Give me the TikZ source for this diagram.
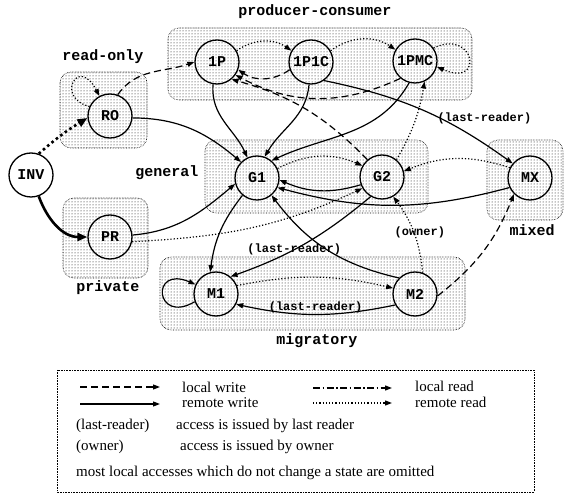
\documentclass[tikz,border=0pt]{standalone}
\usepackage{fontspec}
\setmainfont{Liberation Serif}
\setmonofont{Liberation Mono}
\usetikzlibrary{arrows.meta, patterns}

\begin{document}
\begin{tikzpicture}[x=1pt, y=1pt, >={Triangle[length=7pt,width=5pt]},
        state/.style = {draw, circle, line width=1.3pt, minimum size=44pt, inner sep=0pt, font=\fontsize{15}{15}\ttfamily\bfseries},
        region/.style = {draw, densely dotted, line width=0.6pt, rounded corners=11pt, pattern=dots, pattern color=black},
        rlabel/.style = {font=\fontsize{15}{15}\ttfamily\bfseries},
        elabel/.style = {font=\fontsize{12}{12}\ttfamily\bfseries, inner sep=1pt},
        lwrite/.style = {->, line width=1.2pt, dash pattern=on 7pt off 4pt},
        rwrite/.style = {->, line width=1.2pt},
        lread/.style = {->, line width=1.2pt, dash pattern=on 7pt off 2.5pt on 1.5pt off 2.5pt},
        rread/.style = {->, line width=1.2pt, dash pattern=on 1.2pt off 2pt},
        legend/.style = {font=\fontsize{15}{15}\selectfont, anchor=west, inner sep=0pt},
        ]
        \useasboundingbox (0,0) rectangle (565,493);

        \draw [region] (168,465) rectangle (472,393);
        \draw [region] (60,421) rectangle (147,345);
        \draw [region] (205,353) rectangle (428,280);
        \draw [region] (487,353) rectangle (563,273);
        \draw [region] (63,295) rectangle (148,215);
        \draw [region] (160,236) rectangle (465,163);

        \node [rlabel] (prodcons) at (315,481) {producer-consumer};
        \node [rlabel] (readonly) at (103,436) {read-only};
        \node [rlabel] (general) at (167,320) {general};
        \node [rlabel] (mixed) at (532,263) {mixed};
        \node [rlabel] (private) at (108,205) {private};
        \node [rlabel] (migratory) at (317,152) {migratory};

        \node [state] (inv) at (31,318) {INV};
        \node [state] (ro) at (110,377) {RO};
        \node [state] (pr) at (110,256) {PR};
        \node [state] (onep) at (217,431) {1P};
        \node [state] (onepc) at (311,431) {1P1C};
        \node [state] (onepmc) at (415,432) {1PMC};
        \node [state] (g1) at (257,315) {G1};
        \node [state] (g2) at (382,316) {G2};
        \node [state] (mx) at (530,315) {MX};
        \node [state] (m1) at (216,199) {M1};
        \node [state] (m2) at (415,199) {M2};

        \draw [rread, line width=2.6pt, dash pattern=on 2.6pt off 3pt, >={Triangle[length=10pt,width=8pt]}] (inv.70) to[bend left=5] (ro.185);
        \draw [rwrite, line width=2.6pt, >={Triangle[length=10pt,width=8pt]}] (inv.-70) to[out=-70, in=180] (pr.180);
        \draw [rread] (ro.155) .. controls (55,395) and (78,438) .. (ro.118);
        \draw [lwrite] (ro.70) to[out=55, in=199] (onep.180);
        \draw [rwrite] (ro.-5) to[out=0, in=140] (g1.135);
        \draw [rwrite] (pr.5) to[out=5, in=220] (g1.-165);
        \draw [rread] (pr.-12) to[out=3, in=205] (g2.210);

        \draw [rread] (onep.30) to[bend left=35] (onepc.150);
        \draw [lwrite] (onepc.200) to[bend left=35] (onep.-20);
        \draw [rread] (onepc.30) to[bend left=35] (onepmc.150);
        \draw [lwrite] (onepmc.-130) to[out=205, in=-28] (onep.-35);
        \draw [rread] (onepmc.35) .. controls (475,465) and (485,405) .. (onepmc.-15);
        \draw [rwrite] (onep.-100) to[out=-95, in=115] (g1.115);
        \draw [rwrite] (onepc.-95) to[out=-95, in=60] (g1.70);
        \draw [rwrite] (onepmc.-105) to[out=-120, in=25] (g1.50);
        \draw [rwrite] (onepc.-55) to[bend left=12] node[elabel, pos=0.85, yshift=26pt] {(last-reader)} (mx.140);

        \draw [lwrite] (g2.130) to[bend right=15] (onep.-50);
        \draw [rread] (g1.25) to[bend left=25] (g2.150);
        \draw [rwrite] (g2.200) to[bend left=20] (g1.-5);
        \draw [rwrite] (mx.-155) to[bend left=15] (g1.-25);
        \draw [rread] (mx.153) to[bend right=20] (g2.15);
        \draw [rread] (g2.50) to[bend right=10] (onepmc.-65);
        \draw [rwrite] (g2.-120) to[bend left=10] node[elabel, pos=0.58] {(last-reader)} (m1.50);
        \draw [rwrite] (g1.-130) to[bend right=15] (m1.105);
        \draw [rwrite] (m2.135) to[bend left=20] (g1.-50);

        \draw [rwrite] (m1.200) .. controls (155,168) and (150,228) .. (m1.155);
        \draw [rread] (m1.22) to[bend left=12] (m2.165);
        \draw [rwrite] (m2.209) to[bend left=12] node[elabel, above] {(last-reader)} (m1.-27);
        \draw [rread] (m2.70) to[bend right=15] node[elabel, pos=0.5, xshift=6pt] {(owner)} (g2.-60);
        \draw [lwrite] (m2.-5) to[bend right=15] (mx.-135);

        \draw [densely dotted, line width=0.6pt] (57,123) rectangle (534,1);
        \coordinate (lw1) at (80,106); \coordinate (lw2) at (160,106);
        \coordinate (rw1) at (80,89); \coordinate (rw2) at (160,89);
        \coordinate (lr1) at (313,105); \coordinate (lr2) at (392,105);
        \coordinate (rr1) at (313,90); \coordinate (rr2) at (392,90);
        \draw [lwrite] (lw1) -- (lw2);
        \draw [rwrite] (rw1) -- (rw2);
        \draw [lread] (lr1) -- (lr2);
        \draw [rread] (rr1) -- (rr2);
        \node [legend] (lwtext) at (182,106) {local write};
        \node [legend] (rwtext) at (182,90) {remote write};
        \node [legend] (lrtext) at (415,107) {local read};
        \node [legend] (rrtext) at (415,91) {remote read};
        \node [legend] (lrkey) at (76,67) {(last-reader)};
        \node [legend] (lrdesc) at (176,67) {access is issued by last reader};
        \node [legend] (owkey) at (76,46) {(owner)};
        \node [legend] (owdesc) at (180,46) {access is issued by owner};
        \node [legend] (note) at (76,20) {most local accesses which do not change a state are omitted};
    \end{tikzpicture}
\end{document}
